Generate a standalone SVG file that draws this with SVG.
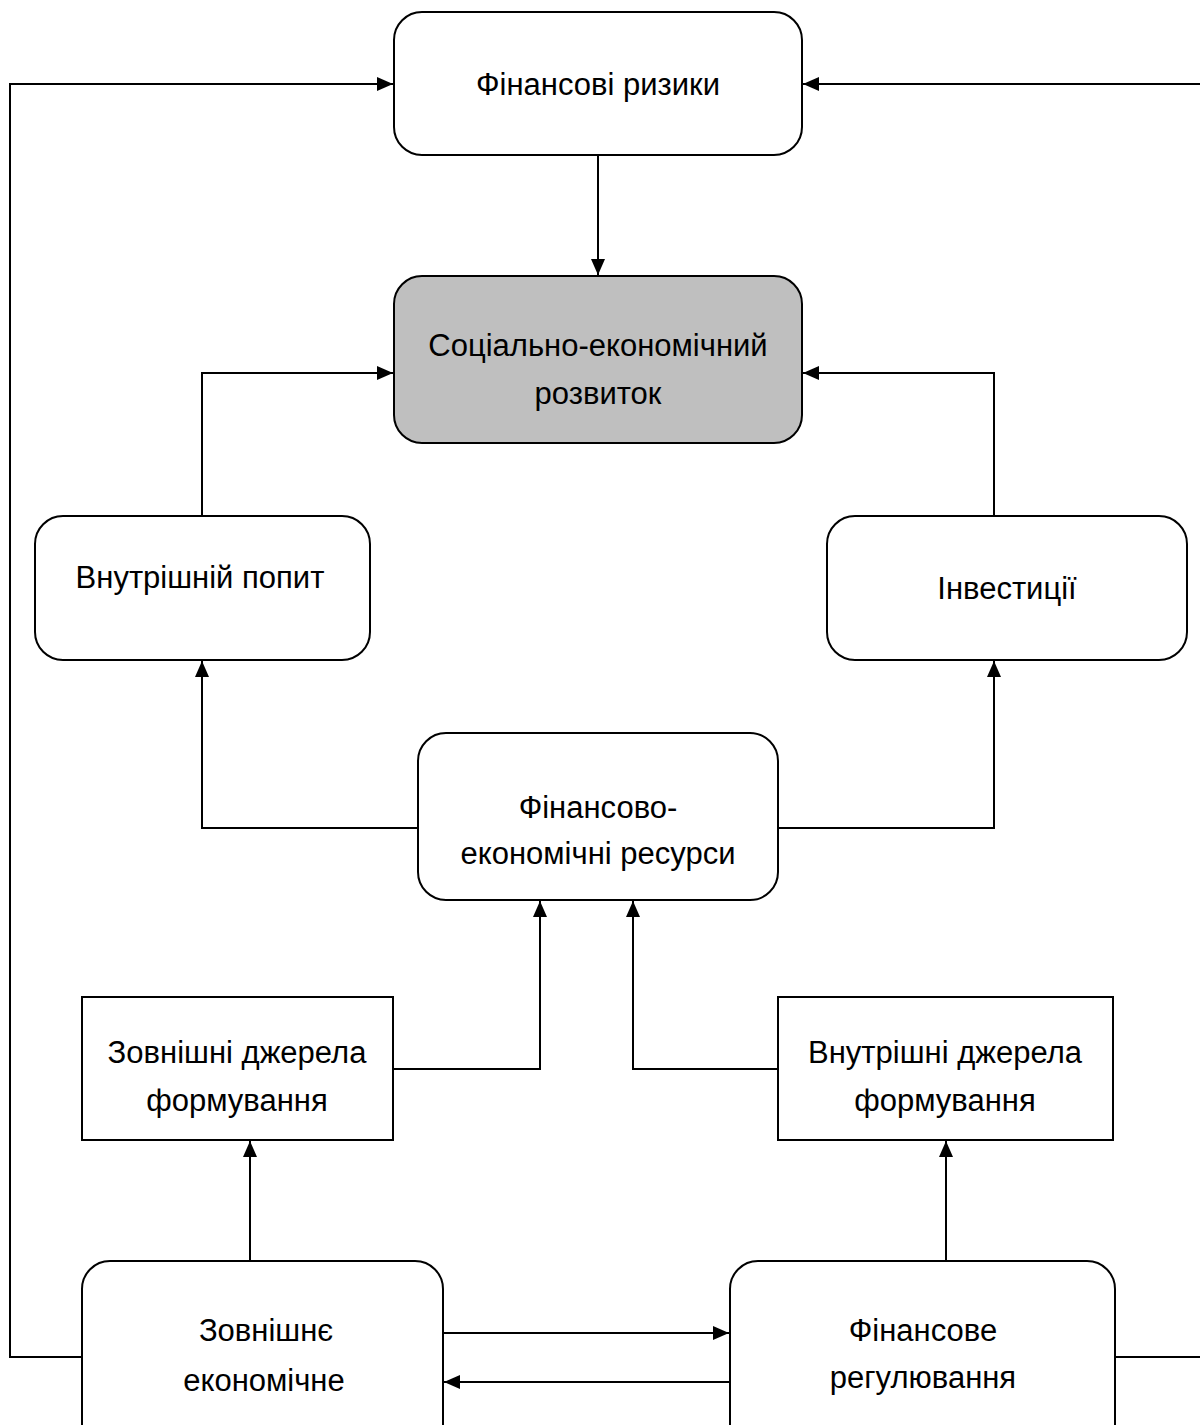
<svg xmlns="http://www.w3.org/2000/svg" width="1200" height="1425" viewBox="0 0 1200 1425">
<style>
.box{fill:#ffffff;stroke:#000000;stroke-width:2}
.main{fill:#bfbfbf;stroke:#000000;stroke-width:2}
.lbl{font-family:"Liberation Sans",Arial,sans-serif;font-size:31px;fill:#000000;text-anchor:middle}
.con{fill:none;stroke:#000000;stroke-width:2}
.arr{marker-end:url(#ah)}
</style>
<defs>
<marker id="ah" viewBox="0 0 16 14" refX="16" refY="7" markerWidth="16" markerHeight="14" markerUnits="userSpaceOnUse" orient="auto">
<path d="M0,0 L16,7 L0,14 Z" fill="#000000"/>
</marker>
</defs>
<rect width="1200" height="1425" fill="#ffffff"/>
<g id="connectors">
<path class="con arr" d="M82,1357 H10 V84 H393"/>
<path class="con arr" d="M1115,1357 H1210 V84 H803"/>
<path class="con arr" d="M598,155 V275"/>
<path class="con arr" d="M202,516 V373 H393"/>
<path class="con arr" d="M994,516 V373 H803"/>
<path class="con arr" d="M418,828 H202 V661"/>
<path class="con arr" d="M778,828 H994 V661"/>
<path class="con arr" d="M393,1069 H540 V901"/>
<path class="con arr" d="M778,1069 H633 V901"/>
<path class="con arr" d="M250,1261 V1141"/>
<path class="con arr" d="M946,1261 V1141"/>
<path class="con arr" d="M443,1333 H729"/>
<path class="con arr" d="M730,1382 H444"/>
</g>
<g id="fin-risks">
<rect class="box" x="394" y="12" width="408" height="143" rx="28"/>
<text class="lbl" x="598" y="95">Фінансові ризики</text>
</g>
<g id="socio-economic">
<rect class="main" x="394" y="276" width="408" height="167" rx="28"/>
<text class="lbl" x="598" y="356">Соціально-економічний</text>
<text class="lbl" x="598" y="404">розвиток</text>
</g>
<g id="domestic-demand">
<rect class="box" x="35" y="516" width="335" height="144" rx="28"/>
<text class="lbl" x="200" y="588">Внутрішній попит</text>
</g>
<g id="investments">
<rect class="box" x="827" y="516" width="360" height="144" rx="28"/>
<text class="lbl" x="1007" y="599">Інвестиції</text>
</g>
<g id="resources">
<rect class="box" x="418" y="733" width="360" height="167" rx="28"/>
<text class="lbl" x="598" y="818">Фінансово-</text>
<text class="lbl" x="598" y="864">економічні ресурси</text>
</g>
<g id="external-sources">
<rect class="box" x="82" y="997" width="311" height="143"/>
<text class="lbl" x="237" y="1063">Зовнішні джерела</text>
<text class="lbl" x="237" y="1111">формування</text>
</g>
<g id="internal-sources">
<rect class="box" x="778" y="997" width="335" height="143"/>
<text class="lbl" x="945" y="1063">Внутрішні джерела</text>
<text class="lbl" x="945" y="1111">формування</text>
</g>
<g id="external-economic">
<rect class="box" x="82" y="1261" width="361" height="200" rx="28"/>
<text class="lbl" x="266" y="1341">Зовнішнє</text>
<text class="lbl" x="264" y="1391">економічне</text>
</g>
<g id="fin-regulation">
<rect class="box" x="730" y="1261" width="385" height="200" rx="28"/>
<text class="lbl" x="923" y="1341">Фінансове</text>
<text class="lbl" x="923" y="1388">регулювання</text>
</g>
</svg>
